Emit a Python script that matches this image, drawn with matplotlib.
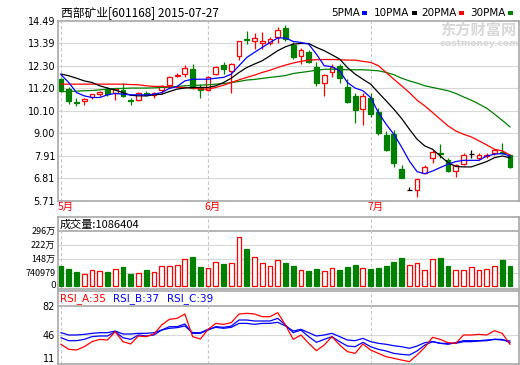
import numpy as np
import matplotlib
matplotlib.use("Agg")
import matplotlib.pyplot as plt
from matplotlib.patches import Rectangle

plt.rcParams['font.family'] = ['Noto Sans CJK SC', 'DejaVu Sans']

# daily candles, 2015-05-05 .. 2015-07-27
opens = [11.66, 11.16, 10.55, 10.59, 10.78, 10.90, 11.17, 10.95, 11.11, 10.62,
         10.64, 10.99, 10.85, 11.12, 11.35, 11.79, 11.89, 12.13, 11.19, 11.11,
         11.89, 12.34, 12.05, 12.78, 13.61, 13.51, 13.40, 13.40, 13.68, 14.12,
         13.32, 12.78, 12.98, 12.25, 11.45, 11.97, 12.26, 11.24, 10.83, 10.18,
         10.72, 10.02, 8.93, 8.96, 7.29, 6.23, 6.23, 7.06, 7.79, 8.03,
         7.69, 7.17, 7.50, 8.00, 7.79, 7.90, 8.03, 8.11, 7.95]
highs = [11.70, 11.27, 10.75, 10.75, 10.94, 11.07, 11.24, 11.21, 11.48, 10.75,
         11.01, 11.07, 11.01, 11.35, 11.81, 11.92, 12.33, 12.38, 11.43, 11.81,
         12.30, 12.46, 12.41, 13.51, 14.00, 13.87, 13.92, 13.71, 14.20, 14.30,
         13.43, 13.16, 13.06, 12.46, 11.89, 12.38, 12.38, 11.64, 10.99, 10.95,
         10.95, 10.26, 9.12, 9.16, 7.45, 6.39, 6.80, 7.45, 8.18, 8.47,
         7.82, 7.53, 8.07, 8.18, 8.07, 8.07, 8.26, 8.55, 8.01]
lows = [11.04, 10.43, 10.34, 10.38, 10.67, 10.83, 10.83, 10.62, 10.78, 10.39,
        10.59, 10.80, 10.75, 10.91, 11.24, 11.73, 11.77, 11.16, 10.72, 11.08,
        11.86, 11.89, 10.99, 12.57, 13.35, 13.11, 13.11, 13.32, 13.38, 13.51,
        12.62, 12.38, 12.41, 11.29, 10.80, 11.77, 11.48, 10.49, 9.53, 9.40,
        9.81, 8.93, 8.16, 7.38, 6.85, 6.23, 5.90, 7.01, 7.55, 7.82,
        7.14, 6.88, 7.45, 7.79, 7.69, 7.82, 7.95, 8.01, 7.33]
closes = [11.06, 10.59, 10.46, 10.68, 10.91, 11.01, 10.91, 11.16, 10.80, 10.56,
          10.98, 10.86, 10.98, 11.32, 11.73, 11.86, 12.21, 11.19, 11.12, 11.76,
          12.25, 12.13, 12.38, 13.51, 13.57, 13.64, 13.48, 13.58, 14.03, 13.60,
          12.73, 13.08, 12.46, 11.45, 11.86, 12.25, 11.68, 10.55, 10.13, 10.83,
          9.94, 9.04, 8.18, 7.55, 6.85, 6.23, 6.77, 7.37, 8.10, 7.98,
          7.17, 7.45, 7.95, 8.00, 7.95, 7.95, 8.21, 8.06, 7.38]
volumes = [1065000, 919000, 773000, 676000, 854000, 822000, 773000, 952000, 1017000, 644000,
           725000, 871000, 773000, 1065000, 1065000, 1163000, 1438000, 1568000, 1017000, 1000000,
           1308000, 1179000, 1260000, 2622000, 2006000, 1552000, 1227000, 1098000, 1422000, 1260000,
           1065000, 854000, 822000, 903000, 806000, 984000, 854000, 1017000, 1163000, 1000000,
           919000, 968000, 1114000, 1308000, 1503000, 1146000, 1244000, 854000, 1438000, 1503000,
           1065000, 854000, 854000, 1049000, 854000, 903000, 1098000, 1406000, 1086404]

ma5 = [11.86, 11.48, 10.99, 10.83, 10.75, 10.75, 10.88, 10.95, 10.91, 10.88,
       10.88, 10.88, 10.91, 10.99, 11.19, 11.29, 11.56, 11.64, 11.64, 11.64,
       11.69, 11.73, 11.89, 12.30, 12.70, 12.95, 13.19, 13.43, 13.65, 13.65,
       13.48, 13.43, 13.35, 12.86, 12.30, 12.25, 12.05, 11.48, 11.21, 11.08,
       10.75, 10.02, 9.45, 8.96, 8.34, 7.66, 7.14, 7.04, 7.17, 7.34,
       7.50, 7.63, 7.69, 7.69, 7.69, 7.90, 7.99, 8.02, 7.90]
ma10 = [11.89, 11.81, 11.69, 11.56, 11.48, 11.32, 11.21, 11.11, 10.99, 10.86,
        10.83, 10.83, 10.88, 10.91, 11.04, 11.16, 11.21, 11.24, 11.24, 11.24,
        11.32, 11.48, 11.69, 11.97, 12.21, 12.38, 12.54, 12.78, 13.03, 13.22,
        13.35, 13.38, 13.38, 13.19, 13.03, 12.83, 12.62, 12.21, 11.89, 11.64,
        11.40, 10.99, 10.59, 10.18, 9.73, 9.21, 8.72, 8.39, 8.23, 7.90,
        7.58, 7.39, 7.37, 7.37, 7.50, 7.63, 7.82, 7.90, 7.82]
ma20 = [11.40, 11.40, 11.40, 11.40, 11.40, 11.40, 11.40, 11.40, 11.40, 11.38,
        11.37, 11.32, 11.29, 11.29, 11.27, 11.24, 11.24, 11.21, 11.16, 11.16,
        11.24, 11.35, 11.48, 11.61, 11.73, 11.84, 11.97, 12.08, 12.21, 12.33,
        12.43, 12.51, 12.57, 12.59, 12.60, 12.60, 12.59, 12.57, 12.57, 12.51,
        12.46, 12.30, 11.97, 11.64, 11.32, 10.99, 10.62, 10.34, 10.02, 9.69,
        9.37, 9.12, 8.96, 8.83, 8.64, 8.44, 8.23, 8.15, 7.95]
ma30 = [11.04, 11.04, 11.06, 11.08, 11.09, 11.12, 11.16, 11.19, 11.19, 11.21,
        11.21, 11.21, 11.22, 11.24, 11.24, 11.29, 11.32, 11.34, 11.35, 11.37,
        11.40, 11.43, 11.48, 11.53, 11.60, 11.63, 11.68, 11.73, 11.77, 11.82,
        11.92, 11.97, 12.02, 12.08, 12.12, 12.13, 12.12, 12.10, 12.10, 12.10,
        12.08, 12.05, 11.97, 11.86, 11.69, 11.56, 11.45, 11.32, 11.24, 11.16,
        11.08, 10.95, 10.78, 10.62, 10.43, 10.23, 9.94, 9.64, 9.32]

rsi_a = [34.9, 28.8, 28.0, 32.0, 38.1, 40.9, 40.1, 50.2, 38.1, 35.3,
         45.0, 44.2, 47.4, 58.3, 65.2, 66.4, 71.7, 44.2, 41.3, 53.1,
         60.3, 59.1, 61.2, 71.7, 72.5, 71.7, 68.4, 68.4, 73.3, 58.3,
         40.9, 46.2, 36.1, 27.2, 34.0, 44.2, 34.0, 26.0, 23.9, 35.3,
         28.0, 23.9, 19.9, 17.9, 15.8, 13.8, 21.9, 31.2, 43.4, 40.9,
         36.9, 36.1, 46.2, 46.2, 47.0, 46.2, 51.4, 48.2, 35.0]
rsi_b = [42.9, 39.3, 39.3, 40.9, 44.2, 45.0, 45.0, 50.2, 42.9, 40.9,
         46.2, 45.0, 46.2, 52.2, 56.3, 56.3, 59.5, 48.2, 48.2, 52.2,
         56.3, 55.5, 57.1, 64.4, 64.4, 63.2, 63.2, 63.2, 66.4, 58.3,
         49.0, 52.2, 44.2, 37.3, 40.9, 44.2, 38.1, 32.8, 32.0, 37.3,
         32.0, 28.8, 26.8, 23.9, 22.7, 21.9, 26.8, 34.0, 38.1, 36.1,
         34.9, 36.9, 39.3, 39.3, 39.3, 40.1, 40.9, 40.9, 37.0]
rsi_c = [49.0, 46.2, 46.2, 47.0, 48.2, 49.0, 49.0, 51.0, 47.4, 47.4,
         48.2, 48.2, 49.0, 52.2, 54.3, 55.1, 57.1, 49.0, 49.0, 53.1,
         55.5, 54.3, 55.5, 60.3, 60.3, 59.1, 60.3, 60.3, 61.6, 57.1,
         51.0, 53.1, 49.0, 45.0, 46.2, 48.2, 44.2, 40.1, 39.3, 42.1,
         38.1, 36.1, 34.9, 33.2, 32.0, 30.0, 32.8, 36.9, 38.1, 36.1,
         36.1, 36.1, 38.1, 38.1, 38.9, 39.3, 40.9, 40.1, 39.0]

price_labels = ['5.71', '6.81', '7.91', '9.00', '10.10', '11.20', '12.30', '13.39', '14.49']
vol_ticks = [740979, 1481958, 2222937, 2963916]
vol_labels = ['740979', '148万', '222万', '296万']
rsi_ticks = [11, 46, 82]
month_idx = [0, 19, 40]
month_names = ['5月', '6月', '7月']

RED = '#ff0000'
GREEN = '#008000'
BLUE = '#0000ff'
GRID = '#d8d8d8'
FRAME = '#a8a8a8'

W, H = 520, 365
fig = plt.figure(figsize=(W / 100, H / 100), dpi=100)
fig.patch.set_facecolor('white')
n = len(closes)
x = np.arange(n)


def panel(top, bottom):
    ax = fig.add_axes([58 / W, 1 - bottom / H, 461 / W, (bottom - top) / H])
    for s in ax.spines.values():
        s.set_color(FRAME)
        s.set_linewidth(1.2)
    ax.tick_params(length=0, labelsize=7, pad=2, colors='black')
    ax.set_xticks([])
    ax.set_xlim(-0.39, 59.17)
    for m in month_idx:
        ax.axvline(m, color='#c8c8c8', ls=(0, (3, 2)), lw=0.8, zorder=1)
    return ax


def ftext(px, py, s, **kw):
    fig.text(px / W, 1 - py / H, s, va='center', **kw)


# price panel
ax = panel(20.7, 201)
ax.set_ylim(5.71, 14.49)
ax.set_yticks(np.linspace(5.71, 14.49, 9))
ax.set_yticklabels(price_labels, family='DejaVu Sans')
for v in np.linspace(5.71, 14.49, 9)[1:-1]:
    ax.axhline(v, color=GRID, lw=0.8, zorder=0)

w = 0.62
for i in range(n):
    o, h, l, c = opens[i], highs[i], lows[i], closes[i]
    if c > o:
        ax.vlines(i, l, h, color=RED, lw=0.9, zorder=2)
        ax.add_patch(Rectangle((i - w / 2, o), w, c - o, facecolor='white',
                               edgecolor=RED, lw=0.9, zorder=2))
    elif c < o:
        ax.vlines(i, l, h, color=GREEN, lw=0.9, zorder=2)
        ax.add_patch(Rectangle((i - w / 2, c), w, o - c, facecolor=GREEN,
                               edgecolor=GREEN, lw=0.9, zorder=2))
    else:
        ax.vlines(i, l, h, color='black', lw=0.9, zorder=2)
        ax.hlines(o, i - w / 2, i + w / 2, color='black', lw=0.9, zorder=2)

ax.plot(x, ma30, color=GREEN, lw=0.9, zorder=3)
ax.plot(x, ma20, color=RED, lw=0.9, zorder=3)
ax.plot(x, ma10, color='black', lw=0.9, zorder=3)
ax.plot(x, ma5, color=BLUE, lw=0.9, zorder=3)

for m, name in zip(month_idx, month_names):
    ftext(58 + 7.74 * m - 0.5, 207, name, color=RED, fontsize=7.5, ha='left')

# watermark
ftext(478, 30, '东方财富网', color='#d8d8d8', fontsize=11, ha='center', weight='bold')
ftext(479, 43, 'eastmoney.com', color='#d8d8d8', fontsize=6.5, ha='center',
      family='DejaVu Sans', weight='bold')

# titles
ftext(61, 13, '西部矿业[601168] 2015-07-27', fontsize=8.5, ha='left')
legend = [('5PMA', 331, BLUE), ('10PMA', 374, 'black'),
          ('20PMA', 421, RED), ('30PMA', 470, GREEN)]
for name, px, col in legend:
    ftext(px, 13, name, fontsize=7.5, ha='left', family='DejaVu Sans')
    fig.patches.append(Rectangle(((px + 7 * len(name) + 3) / W, 1 - 15 / H), 5 / W, 3.5 / H,
                                 transform=fig.transFigure, facecolor=col, edgecolor='none'))

# volume panel: 0 sits a little below the frame, as in the source chart
axv = panel(216.7, 289)
step_px = (276.7 - 231.7) / 3
axv.set_ylim(-740979 * (291.7 - 289) / step_px, 2963916 + 740979 * (231.7 - 216.7) / step_px)
axv.set_yticks(vol_ticks)
axv.set_yticklabels(vol_labels)
axv.tick_params(labelsize=6.5)
ftext(56, 285, '0', fontsize=6.5, ha='right', family='DejaVu Sans')
for v in vol_ticks[:-1]:
    axv.axhline(v, color=GRID, lw=0.8, zorder=0)
axv.axhline(vol_ticks[-1], color=FRAME, lw=1.2, zorder=0)
up = [c >= o for o, c in zip(opens, closes)]
axv.bar(x, volumes, width=w, color=['white' if u else GREEN for u in up],
        edgecolor=[RED if u else GREEN for u in up], lw=0.9, zorder=2)
ftext(60, 225, '成交量:1086404', fontsize=8, ha='left')

# RSI panel
axr = panel(291, 364)
per_px = (82 - 11) / (364 - 305.5)
axr.set_ylim(11, 82 + (305.5 - 291) * per_px)
axr.set_yticks(rsi_ticks)
axr.set_yticklabels([str(t) for t in rsi_ticks], family='DejaVu Sans')
axr.get_yticklabels()[0].set_va('bottom')
axr.axhline(46, color=GRID, lw=0.8, zorder=0)
axr.axhline(82, color=FRAME, lw=1.2, zorder=0)
axr.plot(x, rsi_c, color=BLUE, lw=0.9, zorder=3)
axr.plot(x, rsi_b, color=BLUE, lw=0.9, zorder=3)
axr.plot(x, rsi_a, color=RED, lw=0.9, zorder=3)
ftext(60, 299, 'RSI_A:35', fontsize=7.5, ha='left', color=RED, family='DejaVu Sans')
ftext(113, 299, 'RSI_B:37', fontsize=7.5, ha='left', color=BLUE, family='DejaVu Sans')
ftext(167, 299, 'RSI_C:39', fontsize=7.5, ha='left', color=BLUE, family='DejaVu Sans')

fig.savefig('out.png', dpi=100)
